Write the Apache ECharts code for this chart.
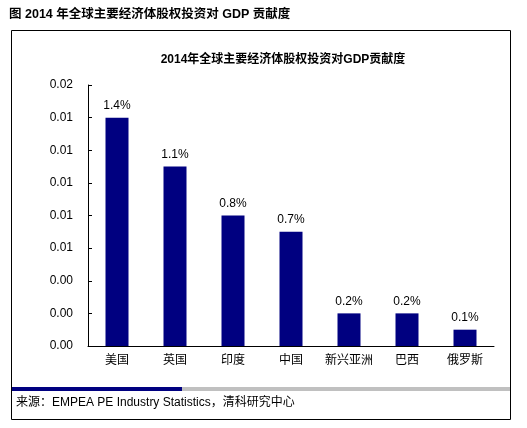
<!DOCTYPE html>
<html><head><meta charset="utf-8">
<script src="https://cdn.jsdelivr.net/npm/echarts@6/dist/echarts.min.js"></script>
<style>html,body{margin:0;padding:0;background:#fff}#c{width:527px;height:428px}</style>
</head><body><div id="c"></div>
<script>
var categories = ['美国','英国','印度','中国','新兴亚洲','巴西','俄罗斯'];
var values = [0.014, 0.011, 0.008, 0.007, 0.002, 0.002, 0.001];
var yTicks = {min: 0, max: 0.016, interval: 0.002};
var chartTitle = '2014年全球主要经济体股权投资对GDP贡献度';
var figTitle = '图 2014 年全球主要经济体股权投资对 GDP 贡献度';
var sourceText = '来源：EMPEA PE Industry Statistics，清科研究中心';

var cjk = '"Liberation Sans", Arial, "Noto Sans CJK SC", sans-serif';
var chart = echarts.init(document.getElementById('c'), null, {renderer: 'canvas'});
chart.setOption({
  animation: false,
  backgroundColor: '#fff',
  title: [{
    text: chartTitle, left: 278, textAlign: 'center', top: 49,
    textStyle: {fontSize: 12, fontWeight: 'bold', color: '#000', fontFamily: cjk}
  }],
  graphic: [
    {type: 'text', left: 9, top: 8, style: {text: figTitle, font: 'bold 12.5px ' + cjk, fill: '#000'}},
    {type: 'rect', shape: {x: 11.5, y: 30.5, width: 499, height: 389}, style: {fill: 'none', stroke: '#000', lineWidth: 1}},
    {type: 'rect', shape: {x: 12, y: 387, width: 170, height: 4}, style: {fill: '#000080'}},
    {type: 'rect', shape: {x: 182, y: 387, width: 328, height: 4}, style: {fill: '#c0c0c0'}},
    {type: 'text', left: 16, top: 397, style: {text: sourceText, font: '12px ' + cjk, fill: '#000'}}
  ],
  grid: {left: 88, right: 33, top: 85, bottom: 82},
  xAxis: {
    type: 'category', data: categories,
    axisLine: {lineStyle: {color: '#000', width: 1}},
    axisTick: {inside: true, length: 4, lineStyle: {color: '#000'}},
    axisLabel: {color: '#000', fontSize: 12, margin: 9, fontFamily: cjk, interval: 0}
  },
  yAxis: {
    type: 'value', min: yTicks.min, max: yTicks.max, interval: yTicks.interval,
    axisLine: {show: true, lineStyle: {color: '#000', width: 1}},
    axisTick: {show: true, inside: true, length: 4, lineStyle: {color: '#000'}},
    splitLine: {show: false},
    axisLabel: {color: '#000', fontSize: 12, margin: 15, fontFamily: cjk,
      formatter: function (v) { return v.toFixed(2); }}
  },
  series: [{
    type: 'bar', data: values, barWidth: 23,
    itemStyle: {color: '#000080'},
    label: {show: true, position: 'top', distance: 6, color: '#000', fontSize: 12, fontFamily: cjk,
      formatter: function (p) { return (p.value * 100).toFixed(1) + '%'; }}
  }]
});
</script></body></html>
